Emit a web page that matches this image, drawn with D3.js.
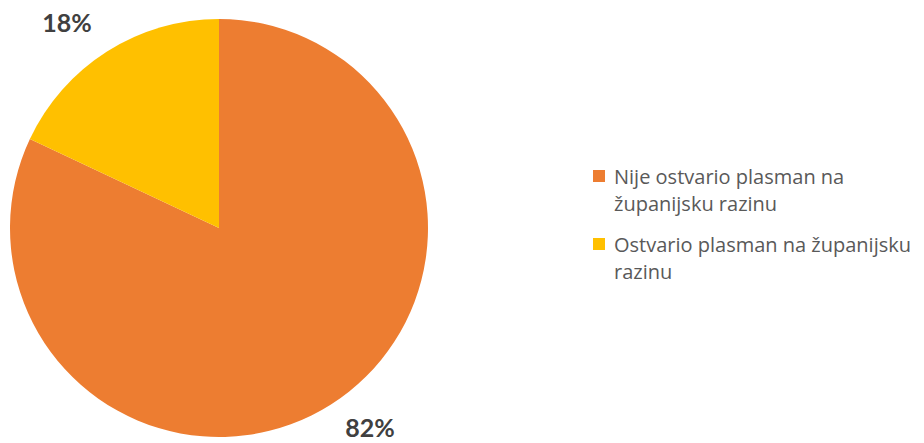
<!DOCTYPE html>
<html>
<head>
<meta charset="utf-8">
<script src="https://cdn.jsdelivr.net/npm/d3@7"></script>
<style>
  body { margin: 0; background: #fff; }
  text { font-family: Lato, "Open Sans", sans-serif; }
</style>
</head>
<body>
<div id="chart"></div>
<script>
// slice data
let categories = ["Nije ostvario plasman na županijsku razinu", "Ostvario plasman na županijsku razinu"]
let legendLines = [["Nije ostvario plasman na", "županijsku razinu"], ["Ostvario plasman na županijsku", "razinu"]]
let values = [82, 18]
let colors = ["#ED7D31", "#FFC000"]

let width = 924, height = 443
let cx = 219, cy = 228, radius = 209

let svg = d3.select("#chart").append("svg")
    .attr("width", width)
    .attr("height", height)

let pie = d3.pie().sort(null).value(d => d)
let arcs = pie(values)

let arc = d3.arc().innerRadius(0).outerRadius(radius)
let labelArc = d3.arc().innerRadius(245).outerRadius(245)

let g = svg.append("g").attr("transform", "translate(" + cx + "," + cy + ")")

g.selectAll("path")
    .data(arcs)
    .enter()
    .append("path")
    .attr("d", arc)
    .style("fill", (d, i) => colors[i])

// outside labels
g.selectAll("text.lbl")
    .data(arcs)
    .enter()
    .append("text")
    .attr("class", "lbl")
    .each(function(d) {
        let c = labelArc.centroid(d)
        let right = c[0] > 0
        d3.select(this)
            .attr("x", right ? c[0] - 5 : c[0] + 4)
            .attr("y", right ? c[1] + 2 : c[1] + 11)
            .attr("text-anchor", right ? "start" : "end")
    })
    .text(d => d.data + "%")
    .style("font-size", "25px")
    .style("font-weight", "bold")
    .style("fill", "#404040")

// legend
let legend = svg.append("g").attr("transform", "translate(593,170)")
let rowY = [0, 68]
for (let i = 0; i < categories.length; i++) {
    legend.append("rect")
        .attr("x", 0).attr("y", rowY[i])
        .attr("width", 12).attr("height", 12)
        .style("fill", colors[i])
    for (let j = 0; j < legendLines[i].length; j++) {
        legend.append("text")
            .attr("x", 21)
            .attr("y", rowY[i] + 14 + j * 27)
            .text(legendLines[i][j])
            .style("font-family", "'Open Sans', sans-serif")
            .style("font-size", "20px")
            .style("fill", "#595959")
    }
}
</script>
</body>
</html>
